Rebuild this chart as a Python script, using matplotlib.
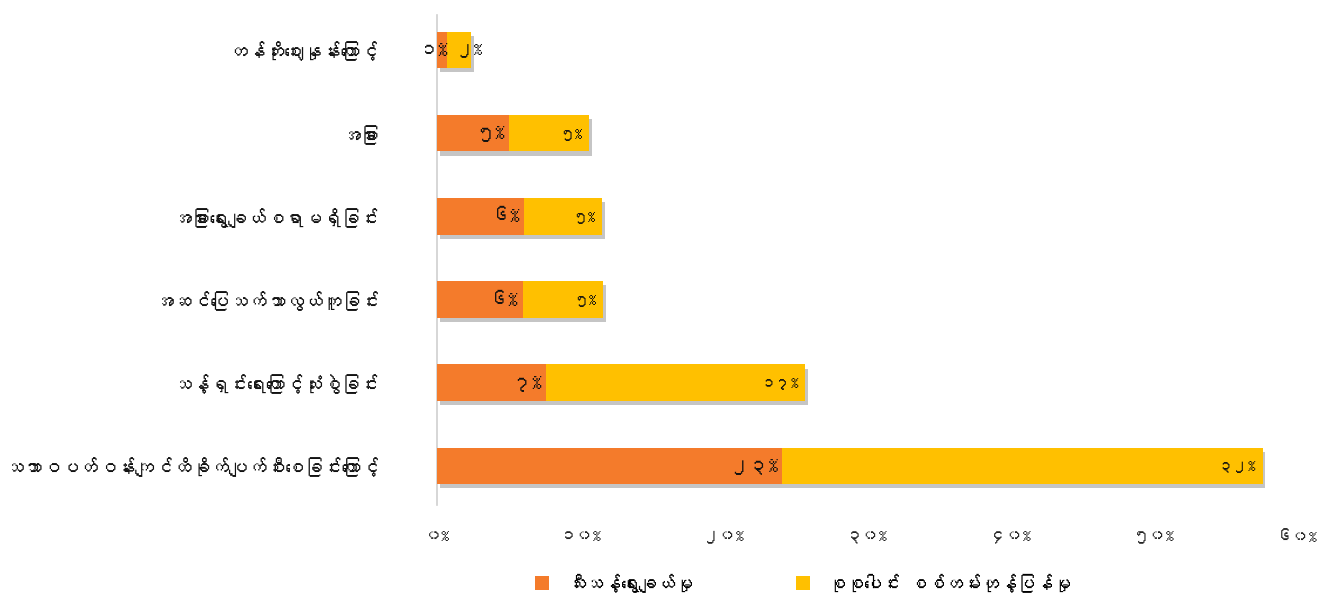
import matplotlib
matplotlib.use("Agg")
import matplotlib.pyplot as plt
import matplotlib.patheffects as pe
from matplotlib.patches import Patch
from matplotlib import font_manager
from matplotlib.ft2font import FT2Font

# ---------------- data ----------------
categories = [
    "သဘာဝပတ်ဝန်းကျင်ထိခိုက်ပျက်စီးစေခြင်းကြောင့်",
    "သန့်ရှင်းရေးကြောင့်သုံးစွဲခြင်း",
    "အဆင်ပြေသက်သာလွယ်ကူခြင်း",
    "အခြားရွေးချယ်စရာမရှိခြင်း",
    "အခြား",
    "တန်ဘိုးဈေးနှုန်းကြောင့်",
]
series_names = ["သီးသန့်ရွေးချယ်မှု", "စုစုပေါင်း စစ်တမ်းတုန့်ပြန်မှု"]
# bar lengths as drawn (percent)
exclusive = [24.1, 7.6, 6.0, 6.1, 5.0, 0.7]
total = [33.5, 18.1, 5.6, 5.4, 5.6, 1.7]
# data labels as printed
exclusive_labels = ["၂၃%", "၇%", "၆%", "၆%", "၅%", "၁%"]
total_labels = ["၃၂%", "၁၇%", "၅%", "၅%", "၅%", "၂%"]
xticks = [0, 10, 20, 30, 40, 50, 60]
xtick_labels = ["၀%", "၁၀%", "၂၀%", "၃၀%", "၄၀%", "၅၀%", "၆၀%"]

# ---------------- font ----------------
my_font = None
for f in font_manager.fontManager.ttflist:
    try:
        cm = FT2Font(f.fname).get_charmap()
        if 0x1000 in cm and 0x1031 in cm and 0x1040 in cm:
            my_font = f.name
            break
    except Exception:
        pass
families = ([my_font] if my_font else []) + ["Noto Sans", "DejaVu Sans"]
plt.rcParams["font.family"] = families

orange = "#F47B2B"
yellow = "#FFC000"

fig = plt.figure(figsize=(13.29, 6.02), dpi=100)
ax = fig.add_axes([437 / 1329, 1 - 505 / 602, (1297 - 437) / 1329, (505 - 15) / 602])

ypos = list(range(len(categories)))
h = 0.44
shadow = [pe.SimplePatchShadow(offset=(2, -3), shadow_rgbFace="#7f7f7f", alpha=0.45), pe.Normal()]
b1 = ax.barh(ypos, exclusive, height=h, color=orange, edgecolor="none", zorder=3)
b2 = ax.barh(ypos, total, left=exclusive, height=h, color=yellow, edgecolor="none", zorder=3)
for b in list(b1) + list(b2):
    b.set_path_effects(shadow)

top = len(categories) - 1
for i, (e, t) in enumerate(zip(exclusive, total)):
    if i == top:
        ax.text(e + 0.1, i, exclusive_labels[i], ha="right", va="center", fontsize=14, color="#111111", zorder=5)
        ax.text(e + t - 0.2, i, total_labels[i], ha="center", va="center", fontsize=13, color="#111111", zorder=5)
    else:
        ax.text(e - 0.3, i, exclusive_labels[i], ha="right", va="center", fontsize=14, color="#111111", zorder=5)
        ax.text(e + t - 0.5, i, total_labels[i], ha="right", va="center", fontsize=11, color="#111111", zorder=5)

ax.set_xlim(0, 60)
ax.set_ylim(-0.47, 5.42)
ax.set_xticks(xticks)
ax.set_xticklabels(xtick_labels, fontsize=12, color="#222222")
ax.set_yticks(ypos)
ax.set_yticklabels(categories, fontsize=13.5, color="#111111")
ax.tick_params(axis="x", length=0, pad=18)
ax.tick_params(axis="y", length=0, pad=42)
for s in ["top", "right", "bottom"]:
    ax.spines[s].set_visible(False)
ax.spines["left"].set_color("#d0d0d0")
ax.spines["left"].set_linewidth(1.2)

handles = [Patch(facecolor=orange, edgecolor="none"), Patch(facecolor=yellow, edgecolor="none")]
fig.legend(handles, series_names, loc="center", bbox_to_anchor=(803 / 1329, 1 - 583 / 602),
           ncol=2, frameon=False, fontsize=13, handlelength=0.8, handleheight=0.8,
           handletextpad=1.0, columnspacing=5.7)

fig.savefig("out.png", dpi=100)
